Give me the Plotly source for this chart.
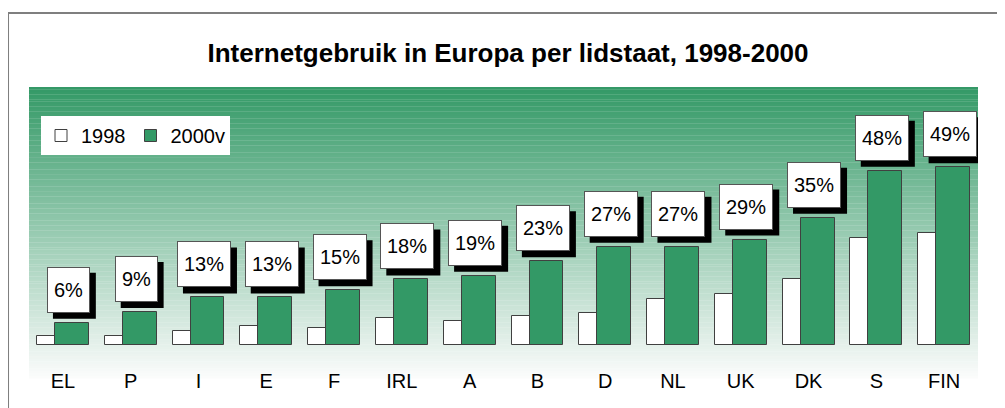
import plotly.graph_objects as go

# ---- data ----
countries = ["EL", "P", "I", "E", "F", "IRL", "A", "B", "D", "NL", "UK", "DK", "S", "FIN"]
usage_1998 = [2.3, 2.3, 3.7, 5.2, 4.7, 7.3, 6.6, 7.8, 8.6, 12.5, 14.0, 18.0, 29.4, 30.9]
usage_2000 = [6, 9, 13, 13, 15, 18, 19, 23, 27, 27, 29, 35, 48, 49]
series_names = ["1998", "2000v"]
title_text = "Internetgebruik in Europa per lidstaat, 1998-2000"

GREEN = "#339966"
FONT = "Arial, Liberation Sans, sans-serif"
LABEL_SIZE = 20
PAD = 6

fig = go.Figure()
fig.add_trace(go.Bar(
    x=countries, y=usage_1998, name=series_names[0],
    marker=dict(color="white", line=dict(color="#404040", width=1)),
    width=0.5, offset=-0.382,
))
fig.add_trace(go.Bar(
    x=countries, y=usage_2000, name=series_names[1],
    marker=dict(color=GREEN, line=dict(color="#404040", width=1)),
    width=0.5, offset=-0.1165,
))

# ---- gradient background (decoration) ----
shapes = []
N = 120
y_top, y_bot = 1.0, -0.04
c0 = (51, 153, 102)
c1 = (252, 252, 252)
for i in range(N):
    t0 = i / N
    t1 = (i + 1) / N
    t = (i + 0.5) / N
    col = tuple(round(c0[k] + (c1[k] - c0[k]) * t) for k in range(3))
    shapes.append(dict(
        type="rect", xref="paper", yref="paper",
        x0=0, x1=1,
        y0=y_top - (y_top - y_bot) * t1 - 0.001,
        y1=y_top - (y_top - y_bot) * t0,
        fillcolor="rgb(%d,%d,%d)" % col, line=dict(width=0), layer="below",
    ))
# outer frame
shapes.append(dict(
    type="rect", xref="paper", yref="paper",
    x0=-0.0221, x1=1.04, y0=-0.3, y1=1.264,
    line=dict(color="#7f7f7f", width=2), fillcolor="rgba(0,0,0,0)", layer="above",
))


def text_width(s, size):
    w = 0.0
    for ch in s:
        w += 0.889 if ch == "%" else 0.556
    return w * size


# ---- value labels with drop shadow ----
annotations = []
XS, YS = 5.5, 10          # label box offset from bar top (px)
SHX, SHY = 6, -6          # shadow offset (px)
BOX_H = 46
for i, (c, v) in enumerate(zip(countries, usage_2000)):
    txt = f"{v}%"
    w = text_width(txt, LABEL_SIZE) + 2 * PAD + 2
    shapes.append(dict(
        type="rect", xref="x", yref="y",
        xsizemode="pixel", ysizemode="pixel", xanchor=i, yanchor=v,
        x0=XS + SHX - w / 2, x1=XS + SHX + w / 2,
        y0=YS + SHY, y1=YS + SHY + BOX_H,
        fillcolor="black", line=dict(width=0), layer="above",
    ))
    annotations.append(dict(
        x=c, y=v, xref="x", yref="y", text=txt, showarrow=False,
        xanchor="center", yanchor="bottom", xshift=XS, yshift=YS,
        font=dict(family=FONT, size=LABEL_SIZE, color="black"),
        bgcolor="white", bordercolor="#555555", borderwidth=1, borderpad=PAD,
        height=BOX_H - 2 * PAD - 2,
    ))

fig.update_layout(
    width=997, height=400,
    margin=dict(l=21, r=27, t=79, b=41),
    paper_bgcolor="white", plot_bgcolor="rgba(0,0,0,0)",
    barmode="overlay",
    title=dict(text=f"<b>{title_text}</b>", x=500 / 997, xref="container", xanchor="center",
               y=1 - 45 / 400, yref="container", yanchor="middle",
               font=dict(family=FONT, size=26, color="black")),
    legend=dict(orientation="h", x=12 / 949, y=(359 - 108) / 280, xanchor="left", yanchor="top",
                bgcolor="white", borderwidth=0, font=dict(family=FONT, size=20, color="black")),
    xaxis=dict(type="category", range=[-0.5, 13.5], showgrid=False, showline=False, ticks="",
               tickfont=dict(family=FONT, size=20, color="black"), fixedrange=True),
    yaxis=dict(range=[-6.2, 71.13], visible=False, showgrid=False, zeroline=False, fixedrange=True),
    shapes=shapes, annotations=annotations,
    bargap=0,
)

fig.write_html("out.html")
